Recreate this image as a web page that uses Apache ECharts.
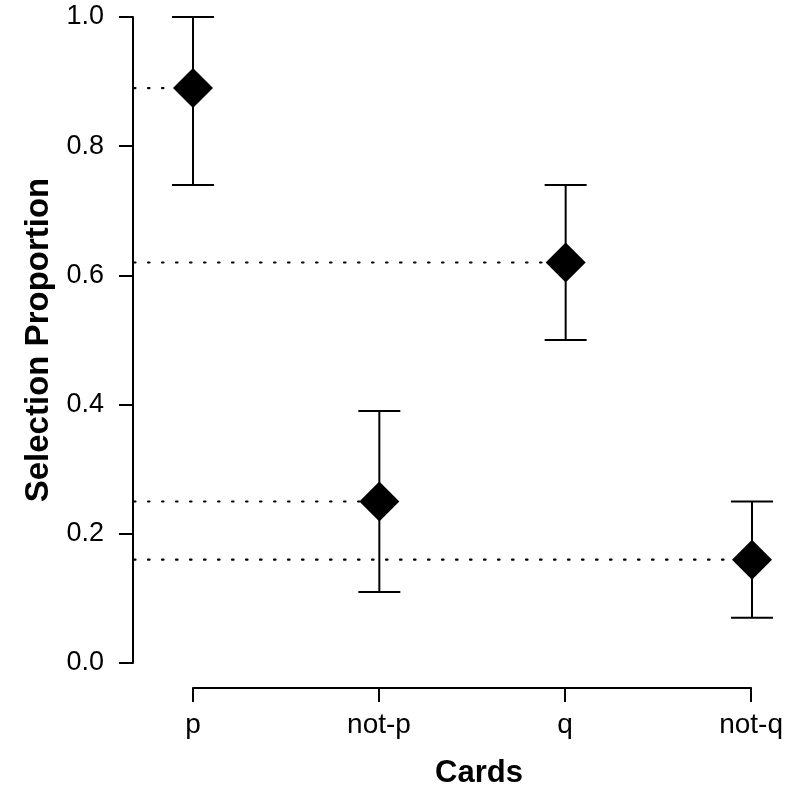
<!DOCTYPE html>
<html>
<head>
<meta charset="utf-8">
<script src="https://cdn.jsdelivr.net/npm/echarts@6/dist/echarts.min.js"></script>
<style>
html,body{margin:0;padding:0;background:#fff;}
#chart{width:786px;height:794px;}
</style>
</head>
<body>
<div id="chart"></div>
<script>
// ---- data ----
const categories = ['p', 'not-p', 'q', 'not-q'];
const means = [0.89, 0.25, 0.62, 0.16];
const lower = [0.74, 0.11, 0.50, 0.07];
const upper = [1.00, 0.39, 0.74, 0.25];
const yTicks = [0.0, 0.2, 0.4, 0.6, 0.8, 1.0];

const FONT = '"Liberation Sans", Arial, Helvetica, sans-serif';
const chart = echarts.init(document.getElementById('chart'), null, {renderer: 'canvas'});

const pts = categories.map((c, i) => [i + 1, means[i], lower[i], upper[i]]);

const option = {
  animation: false,
  backgroundColor: '#fff',
  grid: [
    {left: 133, right: 0, top: 17, height: 646},
    {left: 193, right: 34, top: 17, height: 675}
  ],
  xAxis: [
    {type: 'value', gridIndex: 0, min: 0.678, max: 4.1825, show: false},
    {
      type: 'category', gridIndex: 1, data: categories, boundaryGap: false,
      position: 'bottom',
      axisLine: {show: true, lineStyle: {color: '#000', width: 2}},
      axisTick: {show: true, inside: false, length: 14, lineStyle: {color: '#000', width: 2}, alignWithLabel: true},
      axisLabel: {color: '#000', fontSize: 28, fontFamily: FONT, margin: 23},
      splitLine: {show: false},
      name: 'Cards', nameLocation: 'middle', nameGap: 70,
      nameTextStyle: {color: '#000', fontSize: 31, fontWeight: 'bold', fontFamily: FONT, padding: [0, 0, 0, 14]}
    }
  ],
  yAxis: [
    {
      type: 'value', gridIndex: 0, min: 0, max: 1, interval: 0.2,
      axisLine: {show: true, lineStyle: {color: '#000', width: 2}},
      axisTick: {show: true, length: 14, lineStyle: {color: '#000', width: 2}},
      axisLabel: {color: '#000', fontSize: 27, fontFamily: FONT, margin: 29,
        formatter: v => yTicks.includes(+v.toFixed(1)) ? v.toFixed(1) : ''},
      splitLine: {show: false},
      name: 'Selection Proportion', nameLocation: 'middle', nameGap: 65,
      nameTextStyle: {color: '#000', fontSize: 33, fontWeight: 'bold', fontFamily: FONT}
    },
    {type: 'value', gridIndex: 1, min: 0, max: 1, show: false}
  ],
  series: [
    {
      type: 'custom', xAxisIndex: 0, yAxisIndex: 0, clip: false, z: 2,
      data: pts,
      renderItem: function (params, api) {
        const x = api.value(0);
        const c = api.coord([x, api.value(1)]);
        const lo = api.coord([x, api.value(2)]);
        const hi = api.coord([x, api.value(3)]);
        const left = params.coordSys.x;
        const cap = 21;
        const st = {stroke: '#000', lineWidth: 2, fill: null};
        return {
          type: 'group',
          children: [
            {type: 'line', shape: {x1: left + 1, y1: c[1], x2: c[0], y2: c[1]},
              style: {stroke: '#000', lineWidth: 2.2, lineDash: [1.5, 12.5], lineCap: 'round'}},
            {type: 'line', shape: {x1: c[0], y1: lo[1], x2: c[0], y2: hi[1]}, style: st},
            {type: 'line', shape: {x1: c[0] - cap, y1: lo[1], x2: c[0] + cap, y2: lo[1]}, style: st},
            {type: 'line', shape: {x1: c[0] - cap, y1: hi[1], x2: c[0] + cap, y2: hi[1]}, style: st}
          ]
        };
      }
    },
    {
      type: 'scatter', xAxisIndex: 0, yAxisIndex: 0, z: 3, clip: false,
      symbol: 'diamond', symbolSize: [40, 40],
      itemStyle: {color: '#000', opacity: 1},
      data: pts.map(p => [p[0], p[1]])
    }
  ]
};
chart.setOption(option);
</script>
</body>
</html>
